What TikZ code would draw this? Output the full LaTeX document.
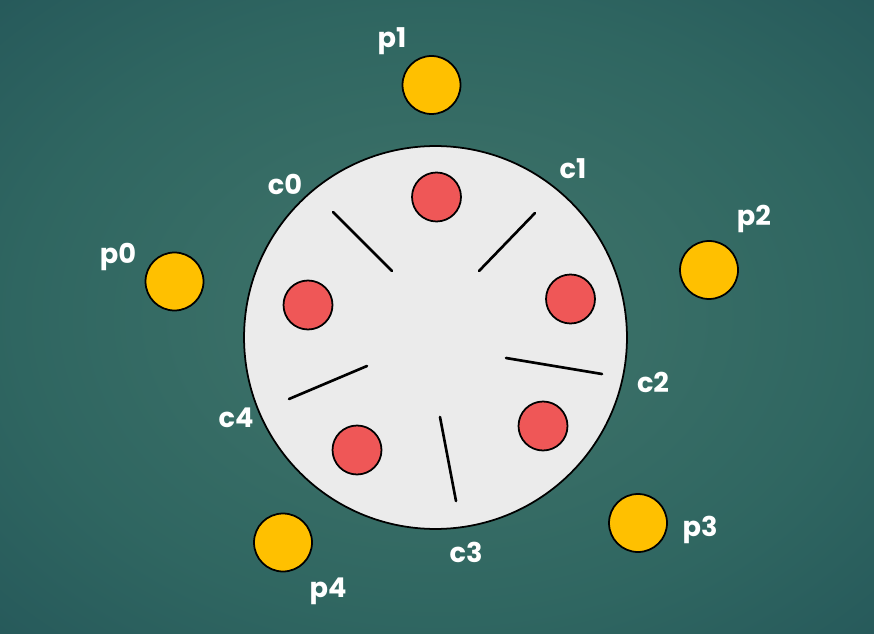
\documentclass[tikz,border=0pt]{standalone}
\usepackage{fontspec}
\setmainfont{Poppins}
\usetikzlibrary{positioning}

\definecolor{platecol}{RGB}{235,235,235}
\definecolor{dishcol}{RGB}{239,87,87}
\definecolor{thinkercol}{RGB}{255,192,0}
\pgfdeclareradialshading{roombg}{\pgfpoint{0bp}{0bp}}{%
  rgb(0bp)=(0.235,0.447,0.412);
  rgb(12bp)=(0.220,0.430,0.400);
  rgb(24bp)=(0.185,0.400,0.380);
  rgb(36bp)=(0.150,0.350,0.355);
  rgb(50bp)=(0.125,0.305,0.330);
  rgb(72bp)=(0.100,0.255,0.300)}

\begin{document}
\begin{tikzpicture}[
        x=0.02cm, y=-0.02cm,
        every node/.style={font=\bfseries\fontsize{15.5}{18}\selectfont},
        tablebox/.style={circle, draw, line width=1pt, fill=platecol, minimum size=7.66cm, inner sep=0pt},
        dish/.style={circle, draw, line width=1pt, fill=dishcol, minimum size=0.98cm, inner sep=0pt},
        thinker/.style={circle, draw, line width=1pt, fill=thinkercol, minimum size=1.16cm, inner sep=0pt},
        lbl/.style={text=white, inner sep=0pt},
        chopstick/.style={line width=1.5pt, line cap=round}
    ]
%
    % Background
    \useasboundingbox (0,0) rectangle (874,634);
    \shade[shading=roombg] (0,0) rectangle (874,634);
%
    % Table
    \node[tablebox] (table) at (435.5,337.5) {};
%
    % Plates
    \foreach \n/\x/\y in {0/308/305, 1/436.5/197, 2/570.5/299, 3/543/426, 4/357/450}
        \node[dish] (dish\n) at (\x,\y) {};
%
    % Chopsticks
    \foreach \n/\xa/\ya/\xb/\yb in {0/333/212/392/271, 1/535/213/479/271, 2/506/358/602/374, 3/440/417/456/501, 4/367/366/289/399}
        \draw[chopstick] (\xa,\ya) coordinate (c\n a) -- (\xb,\yb) coordinate (c\n b);
%
    % Philosophers
    \node[thinker] (p0) at (174.5,281.5) {};
    \node[thinker] (p1) at (431.5,85) {};
    \node[thinker] (p2) at (709,270) {};
    \node[thinker] (p3) at (638,523) {};
    \node[thinker] (p4) at (283,542.5) {};
%
    % Labels
    \node[lbl] (p0lbl) at (118,257) {p0};
    \node[lbl] (p1lbl) at (392,41) {p1};
    \node[lbl] (p2lbl) at (754,219) {p2};
    \node[lbl] (p3lbl) at (700,530) {p3};
    \node[lbl] (p4lbl) at (328,591) {p4};
    \node[lbl] (c0lbl) at (285,184.5) {c0};
    \node[lbl] (c1lbl) at (573,169) {c1};
    \node[lbl] (c2lbl) at (653,382) {c2};
    \node[lbl] (c3lbl) at (466,552) {c3};
    \node[lbl] (c4lbl) at (236,418) {c4};
%
\end{tikzpicture}
\end{document}
